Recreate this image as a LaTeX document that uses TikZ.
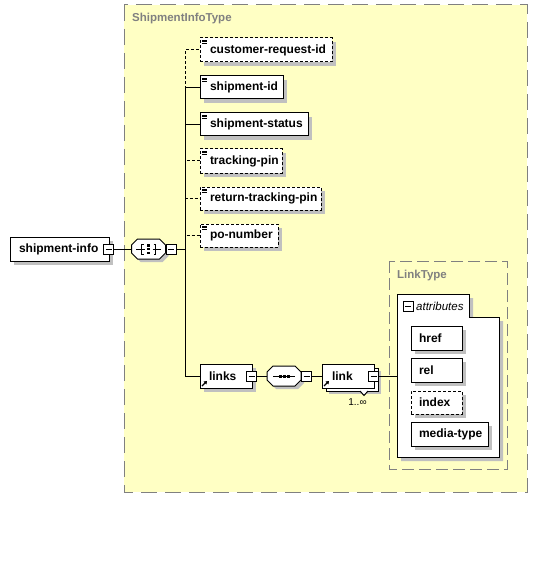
\documentclass[tikz,border=0pt]{standalone}
\usepackage{fontspec}
\setmainfont{Liberation Sans}
\usetikzlibrary{calc,arrows.meta}
\definecolor{cfill}{RGB}{255,255,196}
\definecolor{cgray}{RGB}{128,128,128}
\definecolor{cshadow}{RGB}{192,192,192}
\tikzset{
  elem/.style={draw, fill=white, line width=1pt, inner sep=0pt, align=left, font=\fontsize{12}{14}\selectfont\bfseries},
  optbox/.style={dash pattern=on 3pt off 2pt},
  minusbox/.style={draw, fill=white, line width=1pt, minimum size=10pt, inner sep=0pt,
    path picture={\draw[line width=1pt] ([xshift=-3pt]path picture bounding box.center) -- ([xshift=3pt]path picture bounding box.center);}},
  conn/.style={line width=1pt},
  optconn/.style={line width=1pt, dash pattern=on 3pt off 2pt},
  ttl/.style={text=cgray, font=\fontsize{11.5}{13}\selectfont\bfseries, anchor=west, inner sep=0pt},
  anchorpt/.style={minimum width=34pt, minimum height=20pt, inner sep=0pt},
}
\newcommand\shad[5][4]{\fill[cshadow] (#2+#1,#3+#1) rectangle (#4+#1,#5+#1);}
\newcommand\elembox[8]{%
  \pgfmathsetlengthmacro\myw{(#4-#2)*1pt}%
  \node[elem,#8,text width=\myw,minimum width=\myw,minimum height={(#5-#3)*1pt}] (#1) at ({(#2+#4)/2},{(#3+#5)/2}) {\hspace*{#6pt}\mbox{#7}};
}
\newcommand\elicon[2]{%
  \foreach \k in {2,3.8,5.6} \draw[line width=0.9pt] (#1+2,#2+\k) -- (#1+7,#2+\k);
}
\newcommand\refarrow[2]{%
  \draw[line width=1.3pt, -{Triangle[length=3pt,width=4pt]}] (#1+2,#2-2) -- (#1+7,#2-7);
}
\newcommand\octa[2]{%
  \begin{scope}[shift={(#1,#2)}]
    \fill[cshadow] (-8,-7) -- (14,-7) -- (20,-1) -- (20,7) -- (14,13) -- (-8,13) -- (-14,7) -- (-14,-1) -- cycle;
    \draw[line width=1pt, fill=white] (-11,-10) -- (11,-10) -- (17,-4) -- (17,4) -- (11,10) -- (-11,10) -- (-17,4) -- (-17,-4) -- cycle;
  \end{scope}
}
\begin{document}
\begin{tikzpicture}[x=1pt,y=-1pt]
\fill[white] (0,0) rectangle (538,572);
\useasboundingbox (0,0) rectangle (538,572);

% containers
\draw[cgray, line width=1pt, fill=cfill, dash pattern=on 16pt off 8pt] (124,5) rectangle (527,492);
\node[ttl] (sitTitle) at (132,19) {ShipmentInfoType};
\draw[cgray, line width=1pt, dash pattern=on 12pt off 5pt] (389,261) rectangle (507,469);
\node[ttl] (ltTitle) at (397,276) {LinkType};

% shipment-info
\shad{10}{237}{109}{261}
\elembox{si}{10}{237}{109}{261}{9}{shipment-info}{}
\node[minusbox] (msi) at (108.5,249) {};

% sequence 1
\octa{148.5}{249}
\node[anchorpt] (seq1) at (148.5,249) {};
\begin{scope}[shift={(148.5,249)}, line width=1pt]
  \draw (-12.5,0) -- (-4,0);
  \draw (-5,-5) -- (-7,-5) -- (-7,5) -- (-5,5);
  \draw (5,-5) -- (7,-5) -- (7,5) -- (5,5);
  \draw (4,0) -- (12.5,0);
  \fill (-1.5,-5) rectangle (1.5,-2.5);
  \fill (-1.5,-1.3) rectangle (1.5,1.3);
  \fill (-1.5,2.5) rectangle (1.5,5);
\end{scope}
\node[minusbox] (mseq1) at (171,249) {};

% children
\shad{200}{38}{332}{62}
\elembox{cri}{200}{38}{332}{62}{10}{customer-request-id}{optbox}
\elicon{200}{38}
\shad{200}{76}{283}{99}
\elembox{sid}{200}{76}{283}{99}{10}{shipment-id}{}
\elicon{200}{76}
\shad{200}{113}{308}{136}
\elembox{sst}{200}{113}{308}{136}{10}{shipment-status}{}
\elicon{200}{113}
\shad{200}{149}{282}{173}
\elembox{tpin}{200}{149}{282}{173}{10}{tracking-pin}{optbox}
\elicon{200}{149}
\shad{200}{187}{321}{210}
\elembox{rtp}{200}{187}{321}{210}{10}{return-tracking-pin}{optbox}
\elicon{200}{187}
\shad{200}{224}{278}{247}
\elembox{po}{200}{224}{278}{247}{10}{po-number}{optbox}
\elicon{200}{224}

% links
\shad{200}{364}{252}{388}
\elembox{links}{200}{364}{252}{388}{9}{links}{}
\refarrow{200}{388}
\node[minusbox] (mlinks) at (251.5,376) {};

% sequence 2
\octa{284}{376}
\node[anchorpt] (seq2) at (284,376) {};
\begin{scope}[shift={(284,376)}]
  \draw[line width=1pt] (-11,0) -- (11,0);
  \fill (-5.5,-1.5) rectangle (-2.5,1.5);
  \fill (-1.5,-1.5) rectangle (1.5,1.5);
  \fill (2.5,-1.5) rectangle (5.5,1.5);
\end{scope}
\node[minusbox] (mseq2) at (306.5,376) {};

% link (multiple)
\shad[3]{326}{368}{378}{391}
\draw[line width=1pt, fill=white] (326,368) rectangle (378,391);
\draw[line width=1pt, fill=white] (360,391) -- (364,395.5) -- (368,391);
\elembox{link}{322}{364}{374}{388}{10}{link}{}
\refarrow{322}{388}
\node[minusbox] (mlink) at (373.5,376) {};
\node[inner sep=0pt, font=\fontsize{10}{12}\selectfont] (mult) at (357.5,402.5) {1..∞};

% attributes
\fill[cshadow] (401,298) -- (473,298) -- (473,321) -- (503,321) -- (503,461) -- (401,461) -- cycle;
\draw[line width=1pt, fill=white] (397,294) -- (469,294) -- (469,317) -- (499,317) -- (499,457) -- (397,457) -- cycle;
\coordinate (attrs) at (397,376);
\node[minusbox] (mattr) at (408,306) {};
\node[anchor=west, inner sep=0pt, font=\fontsize{11.5}{13}\selectfont\itshape] (attrlbl) at (416,306) {attributes};
\shad{411}{326}{462}{350}
\elembox{href}{411}{326}{462}{350}{8}{href}{}
\shad{411}{358}{462}{382}
\elembox{rel}{411}{358}{462}{382}{8}{rel}{}
\shad{411}{391}{462}{414}
\elembox{index}{411}{391}{462}{414}{8}{index}{optbox}
\shad{411}{422}{488}{446}
\elembox{mtype}{411}{422}{488}{446}{8}{media-type}{}

% connectors
\coordinate (tr) at (185,249);
\draw[conn] (msi.east) -- (seq1.west);
\draw[conn] (mseq1.east) -- (tr);
\draw[optconn] (tr) |- (cri.west);
\draw[optconn] (tr) |- (tpin.west);
\draw[optconn] (tr) |- (rtp.west);
\draw[optconn] (tr) |- (po.west);
\draw[conn] (tr) |- (sid.west);
\draw[conn] (tr) |- (sst.west);
\draw[conn] (tr) |- (links.west);
\draw[conn] (mlinks.east) -- (seq2.west);
\draw[conn] (mseq2.east) -- (link.west);
\draw[conn] (mlink.east) -- (attrs);
\end{tikzpicture}
\end{document}
